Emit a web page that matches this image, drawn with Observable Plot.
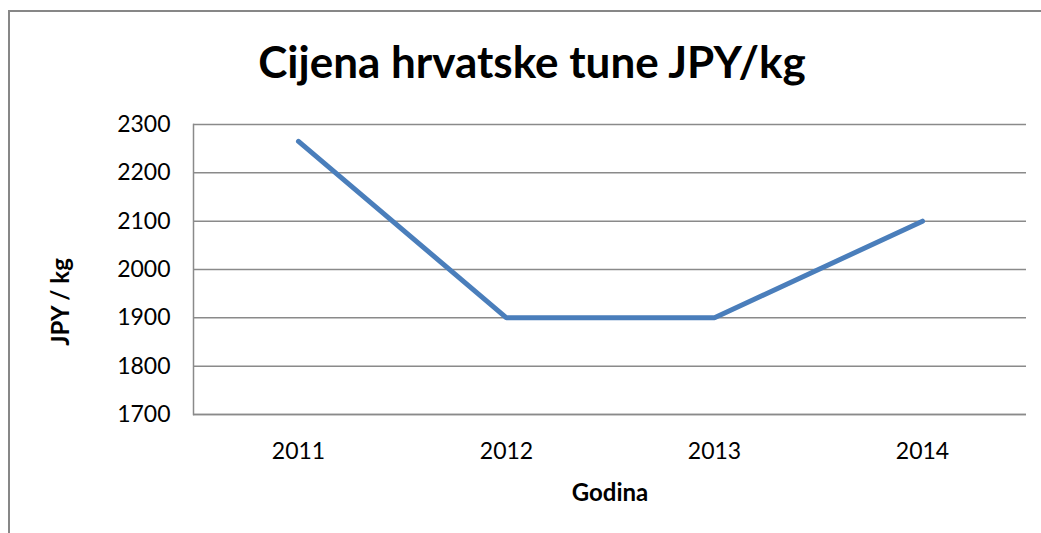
<!DOCTYPE html>
<html>
<head>
<meta charset="utf-8">
<script src="https://cdn.jsdelivr.net/npm/d3@7"></script>
<script src="https://cdn.jsdelivr.net/npm/@observablehq/plot@0.6"></script>
<style>
  html, body { margin: 0; padding: 0; background: #fff; overflow: hidden; }
  #wrap { position: relative; width: 1041px; height: 533px; overflow: hidden; font-family: Lato, "Open Sans", sans-serif; }
  #frame { position: absolute; left: 8px; top: 10px; width: 1100px; height: 600px; border: 2px solid #878787; box-sizing: border-box; }
  #title { position: absolute; left: 0; width: 1064px; top: 35px; text-align: center; font-weight: bold; font-size: 44px; color: #000; }
  #ylab { position: absolute; left: 59px; top: 302px; transform: translate(-50%, -50%) rotate(-90deg); font-weight: bold; font-size: 24px; white-space: nowrap; }
  #xlab { position: absolute; left: 610px; top: 491px; transform: translate(-50%, -50%); font-weight: bold; font-size: 24px; white-space: nowrap; }
  #chart { position: absolute; left: 0; top: 0; }
</style>
</head>
<body>
<div id="wrap">
  <div id="frame"></div>
  <div id="chart"></div>
  <div id="title">Cijena hrvatske tune JPY/kg</div>
  <div id="ylab">JPY / kg</div>
  <div id="xlab">Godina</div>
</div>
<script>
const years = ["2011", "2012", "2013", "2014"];
const prices = [2265, 1900, 1900, 2100];
const yTicks = [1700, 1800, 1900, 2000, 2100, 2200, 2300];

const data = years.map((y, i) => ({year: y, price: prices[i]}));

const chart = Plot.plot({
  width: 1041,
  height: 533,
  marginLeft: 193,
  marginRight: 15,
  marginTop: 124,
  marginBottom: 119,
  style: {fontFamily: "Lato, 'Open Sans', sans-serif", background: "transparent", color: "#000"},
  x: {type: "point", domain: years, padding: 0.5, label: null},
  y: {domain: [1700, 2300], label: null},
  marks: [
    Plot.gridY(yTicks, {stroke: "#8a8a8a", strokeOpacity: 1, strokeWidth: 1.5}),
    Plot.frame({anchor: "left", stroke: "#8a8a8a", strokeWidth: 1.5}),
    Plot.ruleY([1700], {stroke: "#8a8a8a", strokeWidth: 1.5}),
    Plot.axisY(yTicks, {tickSize: 0, tickPadding: 23, fontSize: 23, tickFormat: d => String(d), label: null}),
    Plot.axisX(years, {tickSize: 0, tickPadding: 28, fontSize: 23, label: null}),
    Plot.line(data, {x: "year", y: "price", stroke: "#4a7ebb", strokeWidth: 5, strokeLinecap: "round", strokeLinejoin: "miter"})
  ]
});
document.getElementById("chart").appendChild(chart);
</script>
</body>
</html>
